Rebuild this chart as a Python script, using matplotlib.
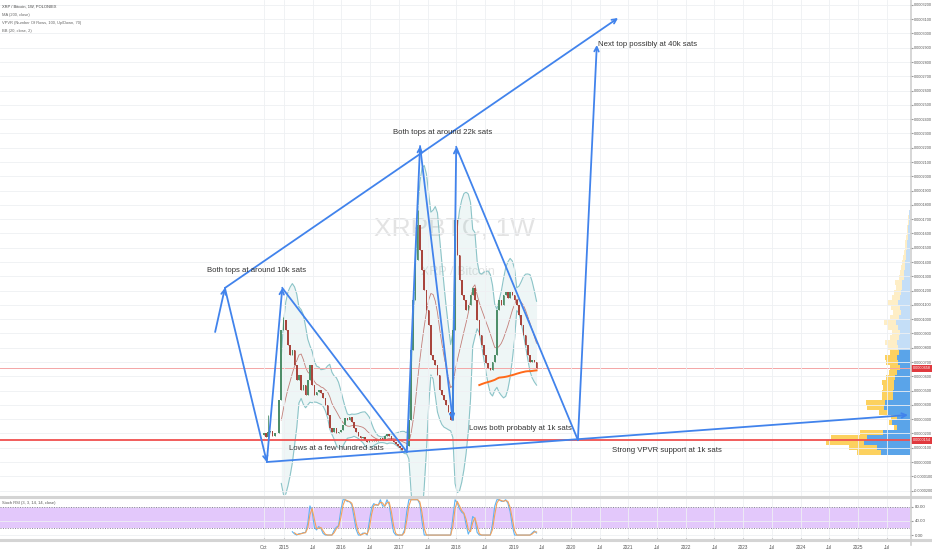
import numpy as np
import pandas as pd
import matplotlib
matplotlib.use("Agg")
import matplotlib.pyplot as plt
from matplotlib.lines import Line2D

plt.rcParams['font.family'] = ['Liberation Sans Narrow', 'Liberation Sans', 'DejaVu Sans']

# XRP/BTC bi-weekly closes in satoshis, Aug 2014 - Jun 2019
start_date = '2014-08-11'
close_sats = [1900, 2000, 1750, 2100, 2200, 1800, 2050, 2000,
              4340, 9240,
              9940, 9240, 8190, 7490, 7840, 6790, 5740, 6090, 5040, 5390,
              4690, 5740, 6790, 5390, 4690, 4900, 5040, 4830, 4480, 3990,
              3290, 2380, 2100, 2380, 2030, 2100, 2240, 2590, 3080, 2940,
              3150, 2800, 2380, 2100, 1820, 1680, 1750, 1540, 1400, 1540,
              1470, 1610, 1470, 1540, 1680, 1540, 1820, 1960, 1820, 1540,
              1400, 1260, 1120, 980, 840, 910, 1120, 2940, 7840, 11340,
              14140, 16590, 14840, 13440, 12040, 10640, 9590, 7490, 7140, 6790,
              6090, 5040, 4690, 4340, 3990, 3500, 2940, 9240, 16940, 14490,
              12740, 11690, 11340, 10640, 10990, 11690, 12180, 11340, 9940, 8890,
              8190, 7490, 6930, 6580, 6440, 7000, 7490, 10640, 11340, 10990,
              11690, 11900, 11480, 11900, 11690, 11340, 10990, 10290, 9590, 8890,
              8190, 7490, 7000, 7140, 7000, 6580]
spike_high = {3: 3300, 10: 10150, 71: 17640, 88: 17990}

# volume profile rows (bottom -> top), up / down volume
vp_bottom = 490
vp_step = 350
vp_up = [29, 33, 46, 43, 27, 13, 18, 13, 22, 26, 25, 17, 17, 16, 16, 15, 13, 10, 12, 13, 11,
         12, 13, 11, 10, 12, 14, 11, 9, 10, 12, 10, 9, 8, 8, 6, 6, 5, 5, 4, 4, 3, 3, 2, 2, 2, 1, 1, 1]
vp_dn = [24, 28, 38, 36, 23, 3, 3, 6, 9, 17, 19, 11, 11, 11, 12, 9, 8, 10, 12, 12, 9,
         10, 12, 9, 8, 10, 12, 9, 8, 9, 10, 8, 7, 6, 7, 5, 4, 4, 3, 3, 2, 2, 2, 2, 1, 1, 1, 1, 0]
value_area_rows = 21

support_sats = 1540

# hand drawn arrows (decimal year, sats)
zig_t = [2013.80, 2013.97, 2014.70, 2014.97, 2017.14, 2017.37, 2017.94, 2018.00, 2020.12, 2020.45]
zig_s = [9100, 12180, 0, 12180, 700, 22120, 2940, 22050, 1540, 29190]
zig_head = [True, True, True, False, True, True, True, False, True]
upper_t = [2013.97, 2020.82]
upper_s = [12180, 31080]
lower_t = [2014.70, 2025.87]
lower_s = [0, 3290]

notes = ['Both tops at around 10k sats', 'Both tops at around 22k sats',
         'Next top possibly at 40k sats', 'Lows at a few hundred sats',
         'Lows both probably at 1k sats', 'Strong VPVR support at 1k sats']
note_t = [2013.66, 2016.90, 2020.47, 2015.09, 2018.22, 2020.71]
note_s = [13440, 23100, 29260, 980, 2310, 840]

legend_lines = ['XRP / Bitcoin, 1W, POLONIEX', 'MA (200, close)',
                'VPVR (Number Of Rows, 100, Up/Down, 70)', 'BB (20, close, 2)']

years = list(range(2015, 2026))
tick_t = [2014.65]
tick_lbl = ['Oct']
for y in years:
    tick_t += [y, y + 0.5]
    tick_lbl += [str(y), 'Jul']

# ---- derived series ----
dates = pd.date_range(start_date, periods=len(close_sats), freq='14D')
t = np.array(dates.year + (dates.dayofyear - 1) / 365.25)
c = pd.Series(close_sats, dtype=float)
o = c.shift(1).fillna(c.iloc[0])
hi = np.maximum(o, c).values.copy()
lo = np.minimum(o, c).values.copy()
for k, v in spike_high.items():
    hi[k] = v

basis = c.rolling(10).mean()
sd = c.rolling(10).std(ddof=0)
bb_up = basis + 2 * sd
bb_lo = basis - 2 * sd
ma200 = c.rolling(100).mean()

delta = c.diff()
gain = delta.clip(lower=0).ewm(alpha=1 / 7, adjust=False).mean()
loss = (-delta.clip(upper=0)).ewm(alpha=1 / 7, adjust=False).mean()
rsi = 100 - 100 / (1 + gain / loss)
rsi[:7] = np.nan
st = (rsi - rsi.rolling(7).min()) / (rsi.rolling(7).max() - rsi.rolling(7).min()) * 100
stoch_k = st.rolling(2).mean()
stoch_d = stoch_k.rolling(2).mean()

# ---- figure ----
W, H = 932, 550
fig = plt.figure(figsize=(W / 100, H / 100), dpi=100)
fig.patch.set_facecolor('white')
rect_main = [0, (H - 496) / H, 910 / W, 496 / H]
xlim = (2010.052, 2025.906)
ylim = (-2380, 32340)

vp = fig.add_axes(rect_main, zorder=0)
ax = fig.add_axes(rect_main, zorder=1)
ax.patch.set_visible(False)

# volume profile
vp.set_xlim(910, 0)
vp.set_ylim(*ylim)
rows = vp_bottom + vp_step * (np.arange(len(vp_up)) + 0.5)
for i in range(len(vp_up)):
    a = 0.85 if i < value_area_rows else 0.3
    vp.barh(rows[i], vp_up[i], height=vp_step * 0.85, left=0, color='#3d94e6', alpha=a, lw=0)
    vp.barh(rows[i], vp_dn[i], height=vp_step * 0.85, left=vp_up[i], color='#fcc943', alpha=a, lw=0)
vp.axis('off')

ax.set_xlim(*xlim)
ax.set_ylim(*ylim)
for sp in ax.spines.values():
    sp.set_visible(False)
ax.set_xticks(tick_t)
ax.set_xticklabels([])
ax.tick_params(axis='x', length=0)
yt = np.arange(-2000, 32001, 1000)
ax.yaxis.tick_right()
ax.set_yticks(yt)
ax.set_yticklabels([f'{v * 1e-8:.7f}' for v in yt], fontsize=2.7, color='#555555')
ax.tick_params(axis='y', length=2, pad=0.8, color='#999999')
ax.grid(True, color='#eef0f3', lw=0.6, zorder=0)

# watermark
ax.text(0.5, 0.54, 'XRPBTC, 1W', transform=ax.transAxes, ha='center', va='center',
        fontsize=19, color='#e3e3e3', zorder=0.5)
ax.text(0.503, 0.452, 'XRP / Bitcoin', transform=ax.transAxes, ha='center', va='center',
        fontsize=9, color='#e3e3e3', zorder=0.5)

# bollinger bands
ax.fill_between(t, bb_lo, bb_up, color='#198787', alpha=0.07, lw=0, zorder=1)
ax.plot(t, bb_up, color='#8cc4c8', lw=0.8, zorder=1.2)
ax.plot(t, bb_lo, color='#8cc4c8', lw=0.8, zorder=1.2)
ax.plot(t, basis, color='#b8605a', lw=0.6, alpha=0.8, zorder=1.3)

# candles
up = (c >= o).values
cols = np.where(up, '#4f8f6a', '#a8453d')
ax.vlines(t, lo, hi, colors=cols, lw=0.6, zorder=2)
ax.bar(t, (c - o).values, bottom=o.values, width=0.028, color=cols, lw=0, zorder=2.1)

ax.plot(t, ma200, color='#ff6a1a', lw=1.4, zorder=2.5)

# horizontal lines
ax.axhline(support_sats, color='#f0504f', lw=1.3, zorder=2.6)
ax.axhline(close_sats[-1], color='#f4a6a6', lw=0.7, zorder=1.5)

blue = '#4183ec'
for i in range(len(zig_t) - 1):
    if zig_head[i]:
        ax.annotate('', xy=(zig_t[i + 1], zig_s[i + 1]), xytext=(zig_t[i], zig_s[i]),
                    arrowprops=dict(arrowstyle='->', color=blue, lw=1.3, mutation_scale=8,
                                    shrinkA=0, shrinkB=0), zorder=3)
    else:
        ax.plot(zig_t[i:i + 2], zig_s[i:i + 2], color=blue, lw=1.3, zorder=3)
for tt, ss in [(upper_t, upper_s), (lower_t, lower_s)]:
    ax.annotate('', xy=(tt[1], ss[1]), xytext=(tt[0], ss[0]),
                arrowprops=dict(arrowstyle='->', color=blue, lw=1.3, mutation_scale=8,
                                shrinkA=0, shrinkB=0), zorder=3)

for txt, tt, ss in zip(notes, note_t, note_s):
    ax.text(tt, ss, txt, fontsize=5.6, color='#333333', ha='left', va='center', zorder=4)

# price boxes
ytr = ax.get_yaxis_transform()
for v in [close_sats[-1], support_sats]:
    ax.text(1.003, v, f'{v * 1e-8:.7f}', transform=ytr, fontsize=2.7, color='white',
            ha='left', va='center', clip_on=False, zorder=5,
            bbox=dict(boxstyle='square,pad=0.4', fc='#e0393e', ec='none'))

# legend texts
for i, s in enumerate(legend_lines):
    fig.text(2 / W, 1 - (7 + 8 * i) / H, s, fontsize=2.9, color='#444444' if i == 0 else '#666666',
             ha='left', va='center')

# stoch rsi pane
ax2 = fig.add_axes([0, (H - 538) / H, 910 / W, 40 / H])
ax2.set_xlim(*xlim)
ax2.set_ylim(-8.3, 104.8)
for sp in ax2.spines.values():
    sp.set_visible(False)
ax2.axhspan(20, 80, color='#e3c8fb', lw=0, zorder=0)
ax2.axhline(80, color='#8a7f99', lw=0.7, ls=(0, (1, 1.5)), zorder=1)
ax2.axhline(20, color='#8a7f99', lw=0.7, ls=(0, (1, 1.5)), zorder=1)
ax2.plot(t, stoch_k, color='#5fb4f3', lw=0.8, zorder=2)
ax2.plot(t, stoch_d, color='#f5a25b', lw=0.8, zorder=2)
ax2.set_xticks(tick_t)
ax2.set_xticklabels(tick_lbl, fontsize=3.4, color='#555555')
ax2.tick_params(axis='x', length=2, pad=3, color='#999999')
ax2.yaxis.tick_right()
ax2.set_yticks([0, 40, 80])
ax2.set_yticklabels(['0.00', '40.00', '80.00'], fontsize=3.2, color='#555555')
ax2.tick_params(axis='y', length=2, pad=1.2, color='#999999')
ax2.grid(True, color='#eef0f3', lw=0.6, zorder=0)
ax2.set_axisbelow(True)
fig.text(2 / W, 1 - 503 / H, 'Stoch RSI (3, 3, 14, 14, close)', fontsize=2.9, color='#555555',
         ha='left', va='center')

# pane separators and price scale border
fig.add_artist(Line2D([0, 1], [(H - 497) / H] * 2, color='#d4d4d4', lw=2.2))
fig.add_artist(Line2D([0, 1], [(H - 539.5) / H] * 2, color='#d4d4d4', lw=2.2))
fig.add_artist(Line2D([910.5 / W] * 2, [(H - 545) / H, 1], color='#cfcfcf', lw=1.2))

fig.savefig('out.png', dpi=100)
